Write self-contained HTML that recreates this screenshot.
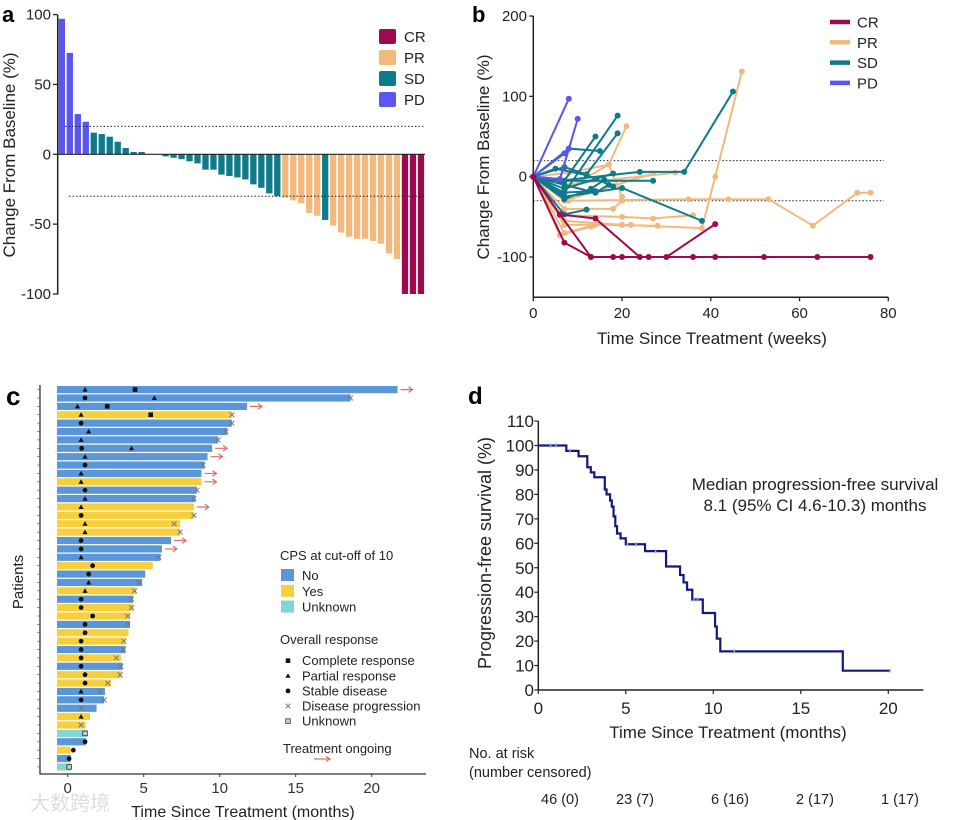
<!DOCTYPE html>
<html><head><meta charset="utf-8"><style>
body{margin:0;background:#fff;}
svg{display:block;font-family:"Liberation Sans","Noto Sans CJK SC",sans-serif;}
</style></head><body>
<svg id="fig" width="955" height="820" viewBox="0 0 955 820">
<text x="2" y="22" font-size="22" font-weight="bold">a</text>
<text x="472" y="22" font-size="22" font-weight="bold">b</text>
<text x="6" y="405" font-size="26" font-weight="bold">c</text>
<text x="468" y="404" font-size="24" font-weight="bold">d</text>
<g id="pa"></g>
<g id="pb"></g>
<g id="pc"></g>
<g id="pd"></g>
<text x="30" y="810" font-size="20" fill="#ddd">大数跨境</text>
</svg>
<script>
// ---------- Panel a data ----------
const aValues=[97,72.6,28.8,23.3,15.5,14.5,12.6,9,4.5,1.7,1.7,0,0,-1.5,-2.5,-3.5,-5,-6.5,-11,-11,-14.5,-15.5,-16.5,-18,-21.5,-24,-28,-30,-31,-33,-35,-42,-44,-47,-51,-56,-59,-60.5,-60.5,-62,-64,-71,-75,-100,-100,-100];
const aResp=['PD','PD','PD','PD','SD','SD','SD','SD','SD','SD','SD','SD','SD','SD','SD','SD','SD','SD','SD','SD','SD','SD','SD','SD','SD','SD','SD','SD','PR','PR','PR','PR','PR','SD','PR','PR','PR','PR','PR','PR','PR','PR','PR','CR','CR','CR'];
const aTicks=[100,50,0,-50,-100];
const respNames=['CR','PR','SD','PD'];
const respColors={CR:'#9e0a4e',PR:'#f2b97f',SD:'#0e7a8a',PD:'#5b55f2'};
// ---------- Panel b data ----------
const bPD=[[[0,0],[8,97]],[[0,0],[6,-3],[10,72]],[[0,0],[7,29]],[[0,0],[6,-3],[8,35]]];
const bSD=[[[0,0],[6,-5],[24,6],[34,6],[45,106]],[[0,0],[7,-20],[19,76]],[[0,0],[8,35],[15,32]],[[0,0],[7,-5],[14,50]],[[0,0],[7,12],[12,3],[19,54]],[[0,0],[7,-47],[12,-41]],[[0,0],[7,-25],[20,-14],[38,-55]],[[0,0],[6,-5],[27,-5]],[[0,0],[7,-15],[18,4]],[[0,0],[7,-10],[14,-20],[17,-10]],[[0,0],[6,-20],[14,-18]],[[0,0],[5,10],[12,2],[18,-12]],[[0,0],[7,-28],[13,-15],[16,-4]]];
const bPR=[[[0,0],[7,-55],[20,-60],[38,-64],[41,0],[47,131]],[[0,0],[8,-30],[35,-28],[44,-28],[53,-28],[63,-61],[73,-20],[76,-20]],[[0,0],[6,-20],[17,15],[21,63]],[[0,0],[7,-10],[32,5]],[[0,0],[7,-30],[27,4]],[[0,0],[7,-70],[14,-60],[28,-61]],[[0,0],[6,-48],[20,-50],[27,-52],[36,-48]],[[0,0],[7,-60],[20,-60],[22,-60]],[[0,0],[6,-73],[13,-62]],[[0,0],[7,-40],[18,-40],[20,-30]],[[0,0],[8,5],[17,15],[20,-25]]];
const bCR=[[[0,0],[7,-82],[13,-100],[18,-100],[20,-100],[26,-100],[36,-100],[41,-100],[52,-100],[64,-100],[76,-100]],[[0,0],[6,-47],[14,-52],[24,-100],[30,-100],[41,-59]],[[0,0],[6,-47],[13,-100]]];
const bXTicks=[0,20,40,60,80];
const bYTicks=[200,100,0,-100];
// ---------- Panel c data ----------
const cEnd=[21.7,18.6,11.8,10.8,10.8,10.5,9.9,9.5,9.2,9.0,8.8,8.8,8.5,8.4,8.3,8.3,7.4,7.4,6.8,6.2,6.1,5.6,5.1,4.9,4.5,4.3,4.3,4.1,4.1,4.0,3.8,3.8,3.5,3.6,3.5,2.85,2.45,2.4,1.9,1.47,1.18,1.3,1.2,0.2,0.2,0.2];
const cCps=['No','No','No','Yes','No','No','No','No','No','No','No','Yes','No','No','Yes','Yes','Yes','Yes','No','No','No','Yes','No','No','Yes','No','Yes','Yes','No','Yes','Yes','No','Yes','No','Yes','Yes','No','No','No','Yes','Yes','Unknown','No','Yes','No','Unknown'];
const cOngoing=[1,0,1,0,0,0,0,1,1,0,1,1,0,0,1,0,0,0,1,1,0,0,0,0,0,0,0,0,0,0,0,0,0,0,0,0,0,0,0,0,0,0,0,0,0,0];
const cProg=[null,18.6,null,10.8,10.8,10.4,9.9,null,null,8.9,null,null,8.5,8.3,null,8.3,7.0,7.4,null,null,6.0,null,null,4.7,4.4,4.2,4.2,3.95,3.95,null,3.7,3.66,3.2,3.5,3.45,2.64,2.13,2.4,0.88,null,0.88,null,null,null,null,null];
const cMarks=[[['tri',1.14],['sq',4.43]],[['circ',1.14],['tri',5.7]],[['tri',0.64],['sq',2.6]],[['tri',0.88],['sq',5.46]],[['circ',0.88]],[['tri',1.38]],[['tri',0.88]],[['circ',0.92],['tri',4.2]],[['tri',1.14]],[['circ',1.14]],[['tri',0.88]],[['tri',0.88]],[['circ',1.14]],[['tri',1.14]],[['tri',0.88]],[['circ',0.88]],[['tri',1.14]],[['tri',1.14]],[['circ',0.88]],[['circ',0.88]],[['tri',0.88]],[['circ',1.64]],[['circ',1.38]],[['tri',1.38]],[['tri',1.14]],[['circ',0.88]],[['circ',0.88]],[['circ',1.64]],[['circ',1.14]],[['circ',1.14]],[['circ',0.88]],[['circ',0.88]],[['circ',0.88]],[['circ',0.88]],[['circ',1.14]],[['circ',1.14]],[['tri',0.88]],[['circ',0.88]],[],[['tri',0.88]],[],[['unk',1.14]],[['circ',1.14]],[['circ',0.37]],[['circ',0.09]],[['unk',0.1]]];
const cXTicks=[0,5,10,15,20];
const cpsColors={No:'#5a96d8',Yes:'#f6d03c',Unknown:'#84d6d4'};
// ---------- Panel d data ----------
const kmTimes=[0,1.6,2.3,2.8,3.0,3.2,3.8,3.9,4.1,4.2,4.3,4.4,4.5,4.7,5.0,6.1,7.3,8.1,8.3,8.5,8.8,9.4,10.1,10.2,10.4,17.4];
const kmSurv=[100,97.8,95.6,91.1,89,87,82,80,77.5,75,71,67,64,62,59.6,56.8,50.5,47,44,41,37,31.5,26,21,15.8,7.9];
const kmEnd=20.1;
const kmCensorT=[0.7,1.0,1.8,5.1,5.6,6.7,8.9,9.1,11.2,20.1];
const dXTicks=[0,5,10,15,20];
const dYTicks=[0,10,20,30,40,50,60,70,80,90,100,110];
const riskLabels=['46 (0)','23 (7)','6 (16)','2 (17)','1 (17)'];

const NS='http://www.w3.org/2000/svg';
function mk(parent,tag,attrs,txt){const e=document.createElementNS(NS,tag);for(const k in attrs)e.setAttribute(k,attrs[k]);if(txt!==undefined)e.textContent=txt;parent.appendChild(e);return e;}
let e;

// ================= Panel a =================
(function(){
const g=document.getElementById('pa');
const yA=v=>154.3-v*1.397;
const xA=i=>58.7+i*7.98;
e=mk(g,'line',{x1:57.7,y1:15,x2:57.7,y2:294.5,stroke:'#222','stroke-width':1.5});


aTicks.forEach(t=>{
 e=mk(g,'line',{x1:53,y1:yA(t),x2:57.7,y2:yA(t),stroke:'#222','stroke-width':1.3});
 
 
 e=mk(g,'text',{x:51,y:yA(t)+5,'font-size':15,'text-anchor':'end',fill:'#222'},String(t));
 
 
});
e=mk(g,'text',{transform:'translate(15,155) rotate(-90)','font-size':17,'text-anchor':'middle',fill:'#222'},'Change From Baseline (%)');


aValues.forEach((v,i)=>{
 const y0=yA(0),y1=yA(v);
 e=mk(g,'rect',{x:xA(i),y:Math.min(y0,y1),width:6.3,height:Math.max(0.01,Math.abs(y1-y0)),fill:respColors[aResp[i]]});
 
 
});
e=mk(g,'line',{x1:57.7,y1:yA(0),x2:425,y2:yA(0),stroke:'#222','stroke-width':1.2});


[[20,65],[-30,69]].forEach(p=>{
 e=mk(g,'line',{x1:p[1],y1:yA(p[0]),x2:425,y2:yA(p[0]),stroke:'#222','stroke-width':1,'stroke-dasharray':'1.5,2'});
 
 
});
respNames.forEach((r,i)=>{
 const y=29+i*21;
 e=mk(g,'rect',{x:379,y:y,width:17,height:15,rx:2,fill:respColors[r]});
 
 
 e=mk(g,'text',{x:404,y:y+13,'font-size':15,fill:'#222'},r);
 
 
});
})();

// ================= Panel b =================
(function(){
const g=document.getElementById('pb');
const xB=w=>533.3+w*4.4375;
const yB=v=>176.7-v*0.8033;
e=mk(g,'path',{d:`M${xB(0)},${yB(200)} V${yB(-150)} H${xB(80)}`,fill:'none',stroke:'#222','stroke-width':1.5});


bYTicks.forEach(t=>{
 e=mk(g,'line',{x1:xB(0)-4,y1:yB(t),x2:xB(0),y2:yB(t),stroke:'#222','stroke-width':1.3});
 
 
 e=mk(g,'text',{x:527,y:yB(t)+5,'font-size':15,'text-anchor':'end',fill:'#222'},String(t));
 
 
});
bXTicks.forEach(t=>{
 e=mk(g,'line',{x1:xB(t),y1:yB(-150),x2:xB(t),y2:yB(-150)+4,stroke:'#222','stroke-width':1.3});
 
 
 e=mk(g,'text',{x:xB(t),y:318,'font-size':15,'text-anchor':'middle',fill:'#222'},String(t));
 
 
});
e=mk(g,'text',{x:712,y:344,'font-size':17,'text-anchor':'middle',fill:'#222'},'Time Since Treatment (weeks)');


e=mk(g,'text',{transform:'translate(489,157) rotate(-90)','font-size':17,'text-anchor':'middle',fill:'#222'},'Change From Baseline (%)');


[20,-30].forEach(t=>{
 e=mk(g,'line',{x1:xB(0),y1:yB(t),x2:xB(79),y2:yB(t),stroke:'#222','stroke-width':1,'stroke-dasharray':'1.5,2'});
 
 
});
const groups=[['PR',bPR],['SD',bSD],['PD',bPD],['CR',bCR]];
groups.forEach(([name,series])=>{
 series.forEach(s=>{
  e=mk(g,'polyline',{points:s.map(p=>xB(p[0])+','+yB(p[1])).join(' '),fill:'none',stroke:respColors[name],'stroke-width':2});
  
  
  s.forEach(p=>{
   e=mk(g,'circle',{cx:xB(p[0]),cy:yB(p[1]),r:3,fill:respColors[name]});
   
   
  });
 });
});
respNames.forEach((r,i)=>{
 const y=22+i*20.3;
 e=mk(g,'line',{x1:830,y1:y,x2:850,y2:y,stroke:respColors[r],'stroke-width':4.5});
 
 
 e=mk(g,'text',{x:857,y:y+5.5,'font-size':15,fill:'#222'},r);
 
 
});
})();

// ================= Panel c =================
(function(){
const g=document.getElementById('pc');
const xC=m=>67.7+m*15.2;
const yC=i=>386+i*8.385;
function marker(type,cx,cy){
 if(type==='tri')return mk(g,'path',{d:`M${cx},${cy-2.6} L${cx+2.6},${cy+2} L${cx-2.6},${cy+2}Z`,fill:'#111'});
 if(type==='sq')return mk(g,'rect',{x:cx-2.3,y:cy-2.3,width:4.6,height:4.6,fill:'#111'});
 if(type==='circ')return mk(g,'circle',{cx:cx,cy:cy,r:2.4,fill:'#111'});
 if(type==='unk')return mk(g,'rect',{x:cx-2.3,y:cy-2.3,width:4.6,height:4.6,fill:'#ccc',stroke:'#333','stroke-width':0.8});
 if(type==='x')return mk(g,'path',{d:`M${cx-2.4},${cy-2.4}L${cx+2.4},${cy+2.4}M${cx+2.4},${cy-2.4}L${cx-2.4},${cy+2.4}`,stroke:'#777','stroke-width':1});
}
cEnd.forEach((m,i)=>{
 const y=yC(i);
 e=mk(g,'rect',{x:57,y:y,width:xC(m)-57,height:7.2,fill:cpsColors[cCps[i]]});
 
 
 e=mk(g,'line',{x1:37,y1:y+3.6,x2:40,y2:y+3.6,stroke:'#555','stroke-width':0.6});
 
 
 cMarks[i].forEach(mm=>{
  e=marker(mm[0],xC(mm[1]),y+3.6);
  
  
 });
 if(cProg[i]!==null){
  e=marker('x',xC(cProg[i]),y+3.6);
  
  
 }
 if(cOngoing[i]){
  const x0=xC(m)+3;
  e=mk(g,'path',{d:`M${x0},${y+3.6}H${x0+12}M${x0+8},${y+0.8}L${x0+12},${y+3.6}L${x0+8},${y+6.4}`,fill:'none',stroke:'#d9706a','stroke-width':1.2});
  
  
 }
});
e=mk(g,'path',{d:'M40,385 V774 H426',fill:'none',stroke:'#333','stroke-width':1.3});


cXTicks.forEach(t=>{
 e=mk(g,'line',{x1:xC(t),y1:774,x2:xC(t),y2:777,stroke:'#333','stroke-width':1});
 
 
 e=mk(g,'text',{x:xC(t),y:793,'font-size':15,'text-anchor':'middle',fill:'#333'},String(t));
 
 
});
e=mk(g,'text',{x:243,y:817,'font-size':16,'text-anchor':'middle',fill:'#222'},'Time Since Treatment (months)');


e=mk(g,'text',{transform:'translate(23,582) rotate(-90)','font-size':15,'text-anchor':'middle',fill:'#222'},'Patients');


e=mk(g,'text',{x:280,y:560,'font-size':13,fill:'#222'},'CPS at cut-off of 10');


['No','Yes','Unknown'].forEach((k,i)=>{
 const y=569+i*15.8;
 e=mk(g,'rect',{x:281,y:y,width:13,height:12,fill:cpsColors[k]});
 
 
 e=mk(g,'text',{x:302,y:y+11,'font-size':13,fill:'#222'},k);
 
 
});
e=mk(g,'text',{x:280,y:644,'font-size':13,fill:'#222'},'Overall response');


[['sq','Complete response'],['tri','Partial response'],['circ','Stable disease'],['x','Disease progression'],['unk','Unknown']].forEach((p,i)=>{
 const y=660.7+i*15.1;
 e=marker(p[0],288,y);
 
 
 e=mk(g,'text',{x:302,y:y+4.5,'font-size':13,fill:'#222'},p[1]);
 
 
});
e=mk(g,'text',{x:283,y:753,'font-size':13,fill:'#222'},'Treatment ongoing');


e=mk(g,'path',{d:'M314,759H330M326,756.5L330,759L326,761.5',fill:'none',stroke:'#d9706a','stroke-width':1.2});


})();

// ================= Panel d =================
(function(){
const g=document.getElementById('pd');
const xD=m=>538.3+m*17.5;
const yD=s=>690-s*2.445;
e=mk(g,'path',{d:`M${xD(0)},${yD(110)} V${yD(0)} H${xD(22)}`,fill:'none',stroke:'#222','stroke-width':1.5});


dYTicks.forEach(t=>{
 e=mk(g,'line',{x1:xD(0)-4,y1:yD(t),x2:xD(0),y2:yD(t),stroke:'#222','stroke-width':1.2});
 
 
 e=mk(g,'text',{x:534,y:yD(t)+6,'font-size':17,'text-anchor':'end',fill:'#222'},String(t));
 
 
});
dXTicks.forEach(t=>{
 e=mk(g,'line',{x1:xD(t),y1:690,x2:xD(t),y2:694,stroke:'#222','stroke-width':1.2});
 
 
 e=mk(g,'text',{x:xD(t),y:714,'font-size':17,'text-anchor':'middle',fill:'#222'},String(t));
 
 
});
e=mk(g,'text',{x:728,y:738,'font-size':17,'text-anchor':'middle',fill:'#222','xml:space':'preserve'},'Time Since Treatment  (months)');


e=mk(g,'text',{transform:'translate(491,553) rotate(-90)','font-size':18,'text-anchor':'middle',fill:'#222'},'Progression-free survival (%)');


let d=`M${xD(kmTimes[0])},${yD(kmSurv[0])}`;
for(let i=1;i<kmTimes.length;i++){d+=` H${xD(kmTimes[i])} V${yD(kmSurv[i])}`;}
d+=` H${xD(kmEnd)}`;
e=mk(g,'path',{d:d,fill:'none',stroke:'#14197a','stroke-width':2.2});


function survAt(t){let s=kmSurv[0];for(let i=0;i<kmTimes.length;i++){if(kmTimes[i]<=t)s=kmSurv[i];}return s;}
kmCensorT.forEach(t=>{
 e=mk(g,'line',{x1:xD(t),y1:yD(survAt(t))-2,x2:xD(t),y2:yD(survAt(t))+2,stroke:'#8fb0e6','stroke-width':1.5});
 
 
});
e=mk(g,'text',{x:815,y:490,'font-size':17,'text-anchor':'middle',fill:'#222'},'Median progression-free survival');


e=mk(g,'text',{x:815,y:511,'font-size':17,'text-anchor':'middle',fill:'#222'},'8.1 (95% CI 4.6-10.3) months');


e=mk(g,'text',{x:469,y:758,'font-size':14.5,fill:'#222'},'No. at risk');


e=mk(g,'text',{x:469,y:777,'font-size':14.5,fill:'#222'},'(number censored)');


riskLabels.forEach((l,i)=>{
 e=mk(g,'text',{x:[560,635,730,815,900][i],y:804,'font-size':14.5,'text-anchor':'middle',fill:'#222'},l);
 
 
});
})();
</script>
</body></html>
